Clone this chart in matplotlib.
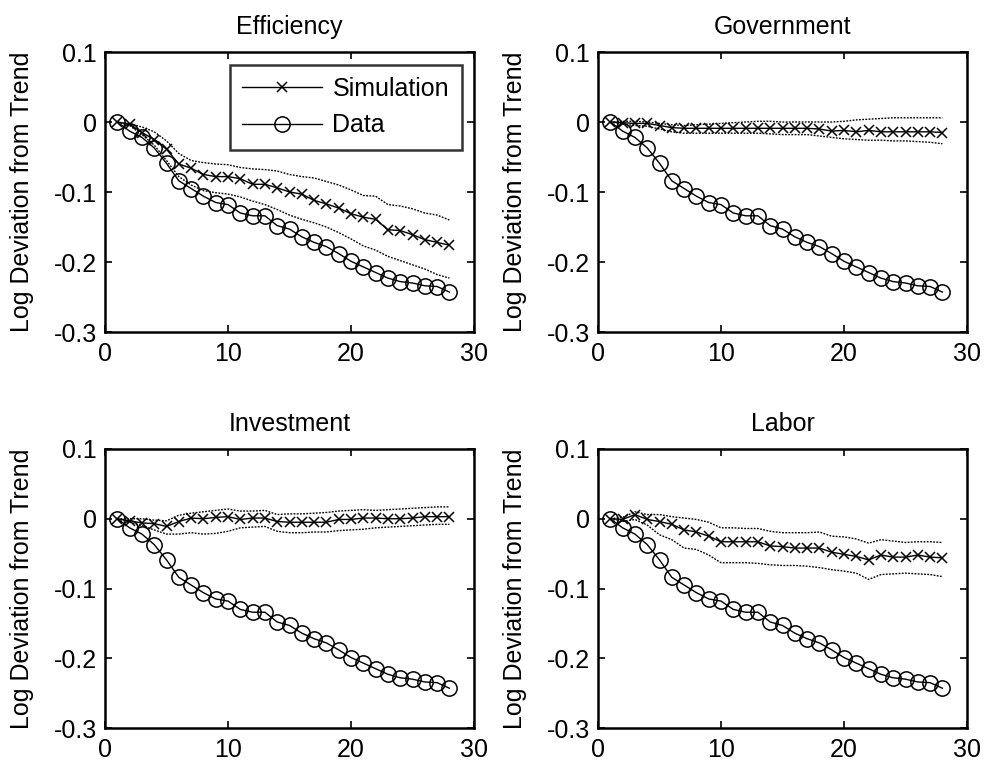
import matplotlib
matplotlib.use("Agg")
import matplotlib.pyplot as plt
import numpy as np

plt.rcParams['font.family'] = ['Liberation Sans', 'DejaVu Sans']

t = list(range(1, 29))

data = [0, -0.013, -0.022, -0.037, -0.059, -0.084, -0.095, -0.106, -0.115, -0.118,
        -0.130, -0.134, -0.134, -0.148, -0.153, -0.164, -0.172, -0.178, -0.188, -0.199,
        -0.207, -0.215, -0.223, -0.228, -0.230, -0.234, -0.235, -0.243]

eff_sim = [0, -0.003, -0.015, -0.025, -0.039, -0.060, -0.066, -0.075, -0.078, -0.078,
           -0.081, -0.089, -0.089, -0.094, -0.100, -0.103, -0.112, -0.117, -0.123, -0.131,
           -0.136, -0.139, -0.154, -0.155, -0.161, -0.168, -0.172, -0.176]
eff_hi = [0, -0.003, -0.007, -0.014, -0.027, -0.045, -0.055, -0.058, -0.060, -0.061,
          -0.065, -0.067, -0.068, -0.070, -0.075, -0.078, -0.080, -0.085, -0.090, -0.097,
          -0.105, -0.106, -0.118, -0.120, -0.124, -0.130, -0.133, -0.140]
eff_lo = [0, -0.005, -0.018, -0.033, -0.055, -0.078, -0.090, -0.098, -0.101, -0.103,
          -0.107, -0.113, -0.118, -0.125, -0.133, -0.139, -0.144, -0.150, -0.158, -0.167,
          -0.177, -0.183, -0.192, -0.198, -0.204, -0.210, -0.218, -0.223]

gov_sim = [0, -0.001, -0.002, -0.002, -0.005, -0.008, -0.009, -0.009, -0.009, -0.009,
           -0.009, -0.009, -0.009, -0.009, -0.009, -0.009, -0.009, -0.010, -0.013, -0.012,
           -0.014, -0.012, -0.014, -0.014, -0.014, -0.014, -0.014, -0.015]
gov_hi = [0, 0.001, 0.001, 0.0, -0.002, -0.004, -0.005, -0.004, -0.003, -0.002,
          -0.001, 0.0, 0.001, 0.001, 0.0, 0.0, 0.0, 0.0, 0.0, 0.001,
          0.003, 0.004, 0.005, 0.006, 0.006, 0.006, 0.006, 0.006]
gov_lo = [0, -0.003, -0.005, -0.006, -0.010, -0.014, -0.016, -0.016, -0.016, -0.016,
          -0.016, -0.016, -0.016, -0.017, -0.018, -0.018, -0.018, -0.020, -0.022, -0.024,
          -0.025, -0.026, -0.026, -0.027, -0.027, -0.028, -0.029, -0.031]

inv_sim = [0, -0.003, -0.006, -0.007, -0.011, -0.004, 0.001, 0.0, 0.002, 0.003,
           -0.001, 0.001, 0.001, -0.004, -0.005, -0.005, -0.005, -0.005, -0.001, -0.001,
           0.001, 0.001, 0.0, 0.0, 0.001, 0.003, 0.003, 0.003]
inv_hi = [0, 0.0, 0.0, -0.002, -0.003, 0.005, 0.008, 0.010, 0.012, 0.014,
          0.011, 0.011, 0.012, 0.006, 0.007, 0.007, 0.008, 0.009, 0.011, 0.012,
          0.013, 0.012, 0.013, 0.014, 0.015, 0.016, 0.017, 0.017]
inv_lo = [0, -0.005, -0.010, -0.016, -0.022, -0.022, -0.020, -0.022, -0.021, -0.018,
          -0.013, -0.012, -0.011, -0.018, -0.020, -0.020, -0.019, -0.019, -0.017, -0.016,
          -0.015, -0.013, -0.012, -0.011, -0.010, -0.009, -0.008, -0.008]

lab_sim = [0, -0.001, 0.006, -0.001, -0.004, -0.008, -0.016, -0.019, -0.025, -0.033,
           -0.033, -0.033, -0.033, -0.039, -0.040, -0.042, -0.042, -0.042, -0.048, -0.051,
           -0.054, -0.059, -0.052, -0.055, -0.055, -0.052, -0.055, -0.056]
lab_hi = [0, 0.002, 0.010, 0.006, 0.006, 0.003, 0.001, -0.001, -0.005, -0.013,
          -0.013, -0.014, -0.014, -0.018, -0.020, -0.020, -0.020, -0.019, -0.025, -0.026,
          -0.029, -0.035, -0.030, -0.032, -0.034, -0.033, -0.033, -0.034]
lab_lo = [0, -0.004, -0.001, -0.009, -0.023, -0.030, -0.042, -0.044, -0.052, -0.063,
          -0.063, -0.063, -0.064, -0.066, -0.067, -0.067, -0.068, -0.070, -0.073, -0.075,
          -0.078, -0.087, -0.080, -0.079, -0.078, -0.079, -0.080, -0.083]

titles = ["Efficiency", "Government", "Investment", "Labor"]
sims = [eff_sim, gov_sim, inv_sim, lab_sim]
his = [eff_hi, gov_hi, inv_hi, lab_hi]
los = [eff_lo, gov_lo, inv_lo, lab_lo]

xticks = [0, 10, 20, 30]
yticks = [-0.3, -0.2, -0.1, 0, 0.1]
yticklabels = ["-0.3", "-0.2", "-0.1", "0", "0.1"]
ylabel = "Log Deviation from Trend"

W, H = 984, 762
fig = plt.figure(figsize=(W / 100, H / 100), dpi=100)

boxes = [(105, 52, 474, 332), (598, 52, 967, 332),
         (105, 449, 474, 728), (598, 449, 967, 728)]

fs = 18
for i, (l, tp, r, b) in enumerate(boxes):
    ax = fig.add_axes([l / W, 1 - b / H, (r - l) / W, (b - tp) / H])
    ax.plot(t, his[i], color='black', lw=1.0, linestyle=(0, (1.3, 1.0)))
    ax.plot(t, los[i], color='black', lw=1.0, linestyle=(0, (1.3, 1.0)))
    hs, = ax.plot(t, sims[i], color='black', lw=1.0, marker='x', markersize=7.5,
                  markeredgewidth=1.1, label='Simulation')
    hd, = ax.plot(t, data, color='black', lw=1.0, marker='o', markersize=11,
                  markerfacecolor='none', markeredgewidth=1.1, label='Data')
    ax.set_xlim(0, 30)
    ax.set_ylim(-0.3, 0.1)
    ax.set_xticks(xticks)
    ax.set_yticks(yticks)
    ax.set_yticklabels(yticklabels)
    ax.tick_params(direction='in', length=5, width=1.2, labelsize=fs,
                   top=True, right=True)
    ax.tick_params(axis='x', pad=7)
    ax.tick_params(axis='y', pad=6)
    for s in ax.spines.values():
        s.set_linewidth(1.8)
    ax.set_title(titles[i], fontsize=fs, pad=13)
    ax.set_ylabel(ylabel, fontsize=fs, labelpad=14)
    if i == 0:
        leg = ax.legend(handles=[hs, hd], loc='upper right', fontsize=fs,
                        frameon=True, fancybox=False, edgecolor='black',
                        handlelength=3.2, borderaxespad=0.5, labelspacing=0.5,
                        handletextpad=0.4, borderpad=0.5)
        leg.get_frame().set_linewidth(1.8)

fig.savefig("out.png", dpi=100)
